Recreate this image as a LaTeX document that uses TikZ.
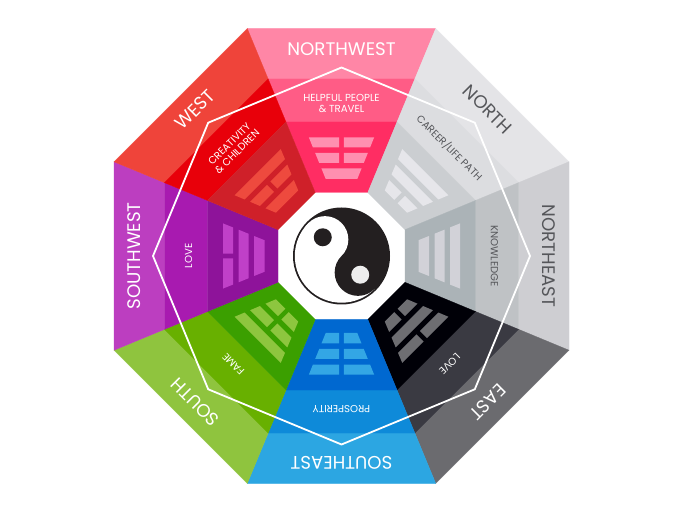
\documentclass[tikz,border=0pt]{standalone}
\usepackage{fontspec}
\setmainfont{Poppins}
\definecolor{nwA}{HTML}{FF86A6}\definecolor{nwB}{HTML}{FF5C86}\definecolor{nwC}{HTML}{FF2D63}\definecolor{nwT}{HTML}{FF8FB0}
\definecolor{nA}{HTML}{E4E4E7}\definecolor{nB}{HTML}{DCDDE0}\definecolor{nC}{HTML}{CBCED1}\definecolor{nT}{HTML}{E6E6EA}
\definecolor{neA}{HTML}{CECED2}\definecolor{neB}{HTML}{BFC2C5}\definecolor{neC}{HTML}{ABB3B7}\definecolor{neT}{HTML}{D2D2D8}
\definecolor{eA}{HTML}{6B6B6F}\definecolor{eB}{HTML}{3A3A42}\definecolor{eC}{HTML}{000007}\definecolor{eT}{HTML}{6E6E72}
\definecolor{seA}{HTML}{2CA6E2}\definecolor{seB}{HTML}{0E8AD9}\definecolor{seC}{HTML}{0068D0}\definecolor{seT}{HTML}{33A6E5}
\definecolor{sA}{HTML}{8FC43E}\definecolor{sB}{HTML}{68B000}\definecolor{sC}{HTML}{3B9F00}\definecolor{sT}{HTML}{8DC63F}
\definecolor{swA}{HTML}{BC3EC0}\definecolor{swB}{HTML}{A81AB0}\definecolor{swC}{HTML}{8E139A}\definecolor{swT}{HTML}{C040C8}
\definecolor{wA}{HTML}{EF443A}\definecolor{wB}{HTML}{E8000A}\definecolor{wC}{HTML}{CF2029}\definecolor{wT}{HTML}{EE4A3E}
\definecolor{darktext}{HTML}{55565A}
\definecolor{yinblack}{HTML}{231F20}
\tikzset{
  bigtext/.style={transform shape,inner sep=0pt,font=\fontsize{18.2}{20}\selectfont,align=center},
  smalltext/.style={transform shape,inner sep=0pt,font=\fontsize{10.2}{11}\selectfont,align=center},
  ringline/.style={draw=white,line width=1.8pt,line join=miter},
}
\newcommand{\bandpiece}[3]{% d1 d2 colour
  \fill[#3,draw=#3,line width=0.3pt] ({-0.41421*#1},#1) -- ({0.41421*#1},#1) -- ({0.41421*#2},#2) -- ({-0.41421*#2},#2) -- cycle;}
\newcommand{\trirow}[4]{% d1 d2 broken colour
  \pgfmathsetmacro{\hwa}{0.405*(#1-38)}\pgfmathsetmacro{\hwb}{0.405*(#2-38)}
  \ifnum#3=1
    \fill[#4] (-\hwa,#1) -- (-2.4,#1) -- (-2.4,#2) -- (-\hwb,#2) -- cycle;
    \fill[#4] (\hwa,#1) -- (2.4,#1) -- (2.4,#2) -- (\hwb,#2) -- cycle;
  \else
    \fill[#4] (-\hwa,#1) -- (\hwa,#1) -- (\hwb,#2) -- (-\hwb,#2) -- cycle;
  \fi}
\newcommand{\octsector}[5]{% rotation, prefix, outer/mid/inner broken flags
  \begin{scope}[rotate=#1]
    \bandpiece{227.5}{177}{#2A}
    \bandpiece{177}{134}{#2B}
    \bandpiece{134}{63.5}{#2C}
    \trirow{118.5}{108.5}{#3}{#2T}
    \trirow{103}{93}{#4}{#2T}
    \trirow{87.5}{77}{#5}{#2T}
  \end{scope}}
\begin{document}
\begin{tikzpicture}[x=1pt,y=1pt]
\useasboundingbox (0,0) rectangle (683,512);
\fill[white] (0,0) rectangle (683,512);
\begin{scope}[shift={(341.5,256)}]
  \octsector{0}{nw}{1}{1}{0}
  \octsector{-45}{n}{0}{0}{1}
  \octsector{-90}{ne}{0}{0}{0}
  \octsector{-135}{e}{1}{0}{1}
  \octsector{180}{se}{1}{1}{1}
  \octsector{135}{s}{0}{1}{1}
  \octsector{90}{sw}{1}{0}{0}
  \octsector{45}{w}{0}{1}{0}

  % yin-yang
  \fill[yinblack] (0,0) circle (48.5);
  \fill[white] (135:46.7) arc (135:315:46.7) -- cycle;
  \fill[white] (135:23.35) circle (23.35);
  \fill[yinblack] (-45:23.35) circle (23.35);
  \fill[yinblack] (135:26.5) circle (9);
  \fill[white!93!black] (-45:26.5) circle (9);

  % labels
  \begin{scope}[rotate=0]
    \node[bigtext,white] (lnw) at (0,207) {NORTHWEST};
    \node[smalltext,white] (mnw) at (0,153) {HELPFUL PEOPLE\\\& TRAVEL};
  \end{scope}
  \begin{scope}[rotate=-45]
    \node[bigtext,darktext] (ln) at (0,207) {NORTH};
    \node[smalltext,darktext] (mn) at (0,153) {CAREER/LIFE PATH};
  \end{scope}
  \begin{scope}[rotate=-90]
    \node[bigtext,darktext] (lne) at (0,207) {NORTHEAST};
    \node[smalltext,darktext] (mne) at (0,153) {KNOWLEDGE};
  \end{scope}
  \begin{scope}[rotate=-135]
    \node[bigtext,white] (le) at (0,207) {EAST};
    \node[smalltext,white] (me) at (0,153) {LOVE};
  \end{scope}
  \begin{scope}[rotate=180]
    \node[bigtext,white] (lse) at (0,207) {SOUTHEAST};
    \node[smalltext,white] (mse) at (0,153) {PROSPERITY};
  \end{scope}
  \begin{scope}[rotate=135]
    \node[bigtext,white] (ls) at (0,207) {SOUTH};
    \node[smalltext,white] (ms) at (0,153) {FAME};
  \end{scope}
  \begin{scope}[rotate=90]
    \node[bigtext,white] (lsw) at (0,207) {SOUTHWEST};
    \node[smalltext,white] (msw) at (0,153) {LOVE};
  \end{scope}
  \begin{scope}[rotate=45]
    \node[bigtext,white] (lw) at (0,207) {WEST};
    \node[smalltext,white] (mw) at (0,153) {CREATIVITY\\\& CHILDREN};
  \end{scope}

  % white ring
  \draw[ringline] (90:188.5) -- (45:188.5) -- (0:188.5) -- (-45:188.5) -- (-90:188.5) -- (-135:188.5) -- (180:188.5) -- (135:188.5) -- cycle;
\end{scope}
\end{tikzpicture}
\end{document}
